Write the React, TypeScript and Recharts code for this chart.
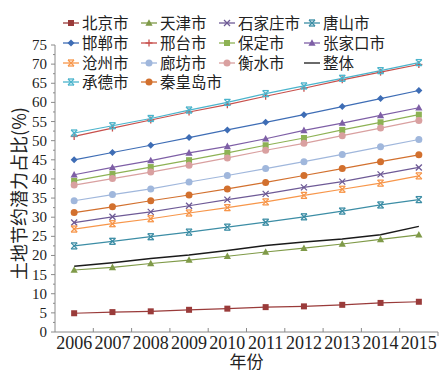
import React from 'react';
import { LineChart, Line, XAxis, YAxis, Legend } from 'recharts';

const YEARS = ['2006', '2007', '2008', '2009', '2010', '2011', '2012', '2013', '2014', '2015'];
const BEIJING = [4.9, 5.2, 5.4, 5.8, 6.1, 6.5, 6.7, 7.1, 7.6, 7.9];
const TIANJIN = [16.2, 16.9, 17.9, 18.8, 19.8, 20.9, 21.9, 23.0, 24.2, 25.4];
const SHIJIAZHUANG = [28.6, 30.1, 31.4, 33.0, 34.6, 36.1, 37.8, 39.3, 41.2, 43.0];
const TANGSHAN = [22.5, 23.7, 24.9, 26.1, 27.4, 28.7, 30.1, 31.6, 33.2, 34.6];
const HANDAN = [45.0, 46.9, 48.8, 50.8, 52.8, 54.8, 56.8, 58.9, 61.0, 63.1];
const XINGTAI = [51.1, 53.3, 55.4, 57.5, 59.4, 61.6, 63.7, 65.9, 67.9, 69.9];
const BAODING = [39.5, 41.3, 43.1, 44.9, 46.8, 48.8, 50.7, 52.8, 54.8, 56.8];
const ZHANGJIAKOU = [41.1, 43.0, 44.8, 46.8, 48.5, 50.5, 52.7, 54.6, 56.6, 58.6];
const CANGZHOU = [26.9, 28.3, 29.6, 31.1, 32.5, 34.0, 35.7, 37.3, 38.9, 40.8];
const LANGFANG = [34.3, 35.9, 37.4, 39.2, 40.9, 42.7, 44.5, 46.4, 48.4, 50.3];
const HENGSHUI = [38.4, 40.1, 41.8, 43.6, 45.5, 47.5, 49.3, 51.3, 53.3, 55.3];
const OVERALL = [17.2, 18.1, 19.2, 20.1, 21.3, 22.6, 23.5, 24.3, 25.4, 27.6];
const CHENGDE = [52.0, 53.9, 55.8, 58.0, 60.0, 62.3, 64.3, 66.3, 68.3, 70.4];
const QINHUANGDAO = [31.2, 32.7, 34.3, 35.8, 37.4, 39.1, 40.9, 42.7, 44.5, 46.3];

const SERIES_NAMES = ['北京市', '天津市', '石家庄市', '唐山市', '邯郸市', '邢台市', '保定市', '张家口市', '沧州市', '廊坊市', '衡水市', '整体', '承德市', '秦皇岛市'];
const SERIES_VALUES = [BEIJING, TIANJIN, SHIJIAZHUANG, TANGSHAN, HANDAN, XINGTAI, BAODING, ZHANGJIAKOU, CANGZHOU, LANGFANG, HENGSHUI, OVERALL, CHENGDE, QINHUANGDAO];
const SERIES_COLORS = ['#9A3B3A', '#7F9A48', '#6E5A96', '#3C8DA5', '#3E6DB5', '#C8504C', '#8DB254', '#7E5FA6', '#F7964A', '#A0B7DC', '#D9A0A0', '#1a1a1a', '#4BB4CC', '#D2702E'];
const SERIES_SHAPES = ['square', 'triangle', 'x', 'star', 'diamond', 'plus', 'square', 'triangle', 'star', 'circle', 'circle', 'none', 'star', 'circle'];

const Y_TICKS = [0, 2.5, 5, 7.5, 10, 12.5, 15, 17.5, 20, 22.5, 25, 27.5, 30, 32.5, 35, 37.5, 40, 42.5, 45, 47.5, 50, 52.5, 55, 57.5, 60, 62.5, 65, 67.5, 70, 72.5, 75];

const data = YEARS.map((year, i) => {
  const row: any = { year };
  SERIES_NAMES.forEach((name, s) => {
    row[name] = SERIES_VALUES[s][i];
  });
  return row;
});

const W = 445;
const H = 378;
const MARGIN = { top: 45, right: 7, left: 0, bottom: 16 };
const Y_AXIS_W = 55;
const BAND = (W - MARGIN.right - MARGIN.left - Y_AXIS_W) / YEARS.length;
const NUM_FONT = '"Liberation Serif", "Times New Roman", serif';
const CJK_FONT = '"Noto Sans CJK SC", sans-serif';
const AXIS_COLOR = '#8a8a8a';

function Marker({ shape, color, cx, cy }: { shape: string; color: string; cx: number; cy: number }) {
  if (cx == null || cy == null) return null;
  switch (shape) {
    case 'square':
      return <rect x={cx - 3} y={cy - 3} width={6} height={6} fill={color} />;
    case 'triangle':
      return <polygon points={`${cx},${cy - 3.8} ${cx + 3.6},${cy + 2.8} ${cx - 3.6},${cy + 2.8}`} fill={color} />;
    case 'x':
      return (
        <g stroke={color} strokeWidth={1.3}>
          <line x1={cx - 3} y1={cy - 3} x2={cx + 3} y2={cy + 3} />
          <line x1={cx - 3} y1={cy + 3} x2={cx + 3} y2={cy - 3} />
        </g>
      );
    case 'star':
      return (
        <g stroke={color} strokeWidth={1.3}>
          <line x1={cx - 3} y1={cy - 3} x2={cx + 3} y2={cy + 3} />
          <line x1={cx - 3} y1={cy + 3} x2={cx + 3} y2={cy - 3} />
          <line x1={cx - 3} y1={cy - 3} x2={cx + 3} y2={cy - 3} />
          <line x1={cx - 3} y1={cy + 3} x2={cx + 3} y2={cy + 3} />
        </g>
      );
    case 'diamond':
      return <polygon points={`${cx},${cy - 3.5} ${cx + 3.5},${cy} ${cx},${cy + 3.5} ${cx - 3.5},${cy}`} fill={color} />;
    case 'plus':
      return (
        <g stroke={color} strokeWidth={1.3}>
          <line x1={cx - 3.5} y1={cy} x2={cx + 3.5} y2={cy} />
          <line x1={cx} y1={cy - 3.5} x2={cx} y2={cy + 3.5} />
        </g>
      );
    case 'circle':
      return <circle cx={cx} cy={cy} r={3.5} fill={color} />;
    default:
      return null;
  }
}

function XTick(props: any) {
  const { x, y, payload, index } = props;
  const half = BAND / 2;
  return (
    <g>
      <text x={x} y={y + 17} textAnchor="middle" fontSize={18} fontFamily={NUM_FONT} fill="#222">
        {payload.value}
      </text>
      {index > 0 && <line x1={x - half} x2={x - half} y1={y} y2={y - 4} stroke={AXIS_COLOR} />}
      {index === YEARS.length - 1 && <line x1={x + half} x2={x + half} y1={y} y2={y + 4} stroke={AXIS_COLOR} />}
    </g>
  );
}

function YTick(props: any) {
  const { x, y, payload } = props;
  const v = payload.value;
  const major = Math.abs(v % 5) < 1e-6;
  return (
    <g>
      <line x1={x - (major ? 4 : 2)} x2={x} y1={y} y2={y} stroke={AXIS_COLOR} />
      {major && (
        <text x={x - 8} y={y + 5} textAnchor="end" fontSize={15} fontFamily={NUM_FONT} fill="#222">
          {v}
        </text>
      )}
    </g>
  );
}

const LEGEND_COLS = [63, 141, 219, 304];
const LEGEND_ROWS = [23, 43, 63, 82];

function LegendContent() {
  return (
    <svg width={W} height={95} style={{ display: 'block' }}>
      {SERIES_NAMES.map((name, i) => {
        const col = i % 4;
        const row = Math.floor(i / 4);
        const x0 = LEGEND_COLS[col];
        const y0 = LEGEND_ROWS[row];
        return (
          <g key={name}>
            <line x1={x0} x2={x0 + 16} y1={y0} y2={y0} stroke={SERIES_COLORS[i]} strokeWidth={1.3} />
            <Marker shape={SERIES_SHAPES[i]} color={SERIES_COLORS[i]} cx={x0 + 8} cy={y0} />
            <text x={x0 + 19} y={y0 + 5.5} fontSize={15.5} fontFamily={CJK_FONT} fill="#222">
              {name}
            </text>
          </g>
        );
      })}
    </svg>
  );
}

export default function App() {
  return (
    <div style={{ position: 'absolute', left: 0, top: 0, width: W, height: H, background: '#fff' }}>
      <LineChart width={W} height={H} data={data} margin={MARGIN}>
        <XAxis
          dataKey="year"
          interval={0}
          tickSize={0}
          tickMargin={0}
          tickLine={false}
          tick={<XTick />}
          height={30}
          padding={{ left: BAND / 2, right: BAND / 2 }}
          axisLine={{ stroke: AXIS_COLOR }}
          label={{
            content: (p: any) => {
              const vb = p.viewBox || {};
              return (
                <text x={vb.x + vb.width / 2} y={368} textAnchor="middle" fontSize={17} fontFamily={CJK_FONT} fill="#222">
                  年份
                </text>
              );
            },
          }}
        />
        <YAxis
          domain={[0, 75]}
          ticks={Y_TICKS}
          interval={0}
          width={Y_AXIS_W}
          tickSize={0}
          tickMargin={0}
          tickLine={false}
          tick={<YTick />}
          axisLine={{ stroke: AXIS_COLOR }}
          label={{
            content: (p: any) => {
              const vb = p.viewBox || {};
              const cy = vb.y + vb.height / 2 + 5;
              return (
                <text
                  x={18}
                  y={cy}
                  transform={`rotate(-90, 18, ${cy})`}
                  textAnchor="middle"
                  dominantBaseline="central"
                  fontSize={18}
                  fontFamily={CJK_FONT}
                  fill="#222"
                >
                  土地节约潜力占比(%)
                </text>
              );
            },
          }}
        />
        <Legend
          layout="horizontal"
          verticalAlign="middle"
          align="center"
          wrapperStyle={{ position: 'absolute', top: 0, left: 0, right: 'auto', bottom: 'auto', width: W, height: 95 }}
          content={() => <LegendContent />}
        />
        {SERIES_NAMES.map((name, i) => (
          <Line
            key={name}
            type="linear"
            dataKey={name}
            stroke={SERIES_COLORS[i]}
            strokeWidth={name === '整体' ? 1.5 : 1.2}
            isAnimationActive={false}
            dot={(p: any) => <Marker key={`${name}-${p.index}`} shape={SERIES_SHAPES[i]} color={SERIES_COLORS[i]} cx={p.cx} cy={p.cy} />}
            activeDot={false}
          />
        ))}
      </LineChart>
    </div>
  );
}
